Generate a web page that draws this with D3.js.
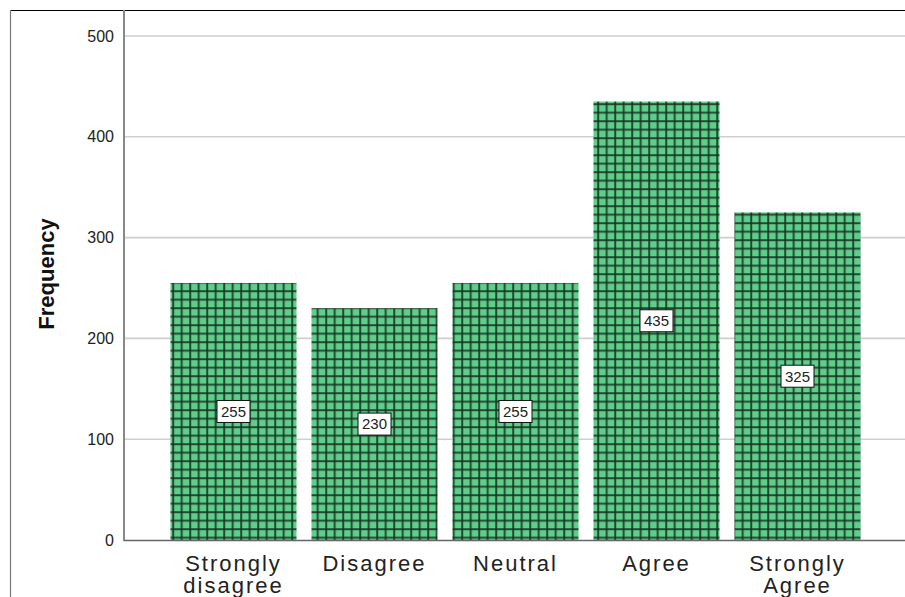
<!DOCTYPE html>
<html>
<head>
<meta charset="utf-8">
<script src="https://cdn.jsdelivr.net/npm/d3@7"></script>
<style>
  html, body { margin: 0; padding: 0; background: #fff; }
  svg { display: block; font-family: "Liberation Sans", Arial, sans-serif; }
</style>
</head>
<body>
<svg id="chart" width="905" height="597"></svg>
<script>
// Response counts per answer option
const categories = [["Strongly", "disagree"], ["Disagree"], ["Neutral"], ["Agree"], ["Strongly", "Agree"]];
const frequencies = [255, 230, 255, 435, 325];
const yTicks = [0, 100, 200, 300, 400, 500];

const svg = d3.select("#chart");
const keys = categories.map(c => c.join(" "));

const x = d3.scaleBand()
  .domain(keys)
  .range([163, 868])
  .paddingInner(0.106)
  .paddingOuter(0.053);

const y = d3.scaleLinear().domain([0, 500]).range([540, 36]);

// Checkered fill for the bars
const defs = svg.append("defs");
const P = 8.5;
const pat = defs.append("pattern")
  .attr("id", "check")
  .attr("patternUnits", "userSpaceOnUse")
  .attr("width", P).attr("height", P)
  .attr("x", 2).attr("y", 1);
pat.append("rect").attr("width", P).attr("height", P).attr("fill", "#5dcf8b");
// soft edges of the weave lines
pat.append("rect").attr("x", -0.4).attr("y", 0).attr("width", 3).attr("height", P).attr("fill", "#2a5a3e").attr("opacity", 0.4);
pat.append("rect").attr("x", 0).attr("y", -0.4).attr("width", P).attr("height", 3).attr("fill", "#2a5a3e").attr("opacity", 0.4);
// dark cores
pat.append("rect").attr("x", 0.4).attr("y", 0).attr("width", 1.5).attr("height", P).attr("fill", "#17301f").attr("opacity", 0.85);
pat.append("rect").attr("x", 0).attr("y", 0.4).attr("width", P).attr("height", 1.5).attr("fill", "#17301f").attr("opacity", 0.85);

// Frame
svg.append("line").attr("x1", 10).attr("x2", 905).attr("y1", 10.5).attr("y2", 10.5)
  .attr("stroke", "#000").attr("stroke-width", 1);
svg.append("line").attr("x1", 10.5).attr("x2", 10.5).attr("y1", 10).attr("y2", 597)
  .attr("stroke", "#777").attr("stroke-width", 1.2);

// Gridlines
svg.append("g").selectAll("line")
  .data(yTicks.filter(d => d > 0))
  .join("line")
  .attr("x1", 124).attr("x2", 905)
  .attr("y1", d => y(d)).attr("y2", d => y(d))
  .attr("stroke", "#cfcfcf").attr("stroke-width", 1.6);

// Y axis
const yAxis = svg.append("g")
  .attr("transform", "translate(124,0)")
  .call(d3.axisLeft(y).tickValues(yTicks).tickSize(0).tickPadding(10));
yAxis.select(".domain").remove();
yAxis.selectAll("text").attr("font-size", 16).attr("fill", "#222")
  .attr("font-family", "'Liberation Sans', Arial, sans-serif");

svg.append("line").attr("x1", 124).attr("x2", 124).attr("y1", 10).attr("y2", 541)
  .attr("stroke", "#888").attr("stroke-width", 2);

// Bars
svg.append("g").selectAll("rect")
  .data(frequencies)
  .join("rect")
  .attr("x", (d, i) => x(keys[i]))
  .attr("y", d => y(d))
  .attr("width", x.bandwidth())
  .attr("height", d => y(0) - y(d))
  .attr("fill", "url(#check)");

// Baseline
svg.append("line").attr("x1", 124).attr("x2", 905).attr("y1", 540.5).attr("y2", 540.5)
  .attr("stroke", "#666").attr("stroke-width", 1.6);

// Value labels in the middle of each bar
const lbl = svg.append("g").selectAll("g")
  .data(frequencies)
  .join("g")
  .attr("transform", (d, i) => `translate(${x(keys[i]) + x.bandwidth() / 2},${y(d / 2)})`);
lbl.append("rect")
  .attr("x", -16.5).attr("y", -11).attr("width", 33).attr("height", 22)
  .attr("fill", "#fff").attr("stroke", "#111").attr("stroke-width", 1);
lbl.append("text")
  .attr("text-anchor", "middle").attr("dy", "0.36em")
  .attr("font-size", 15).attr("fill", "#222")
  .text(d => d);

// Category labels
const cat = svg.append("g").selectAll("text")
  .data(categories)
  .join("text")
  .attr("x", (d, i) => x(keys[i]) + x.bandwidth() / 2)
  .attr("y", 571)
  .attr("text-anchor", "middle")
  .attr("font-size", 22).attr("letter-spacing", 2).attr("fill", "#222");
cat.selectAll("tspan")
  .data(d => d)
  .join("tspan")
  .attr("x", function () { return this.parentNode.getAttribute("x"); })
  .attr("dy", (d, i) => i === 0 ? 0 : 22)
  .text(d => d);

// Y axis title
svg.append("text")
  .attr("transform", "translate(54,274) rotate(-90)")
  .attr("text-anchor", "middle")
  .attr("font-size", 22).attr("font-weight", "bold").attr("fill", "#111")
  .text("Frequency");
</script>
</body>
</html>
